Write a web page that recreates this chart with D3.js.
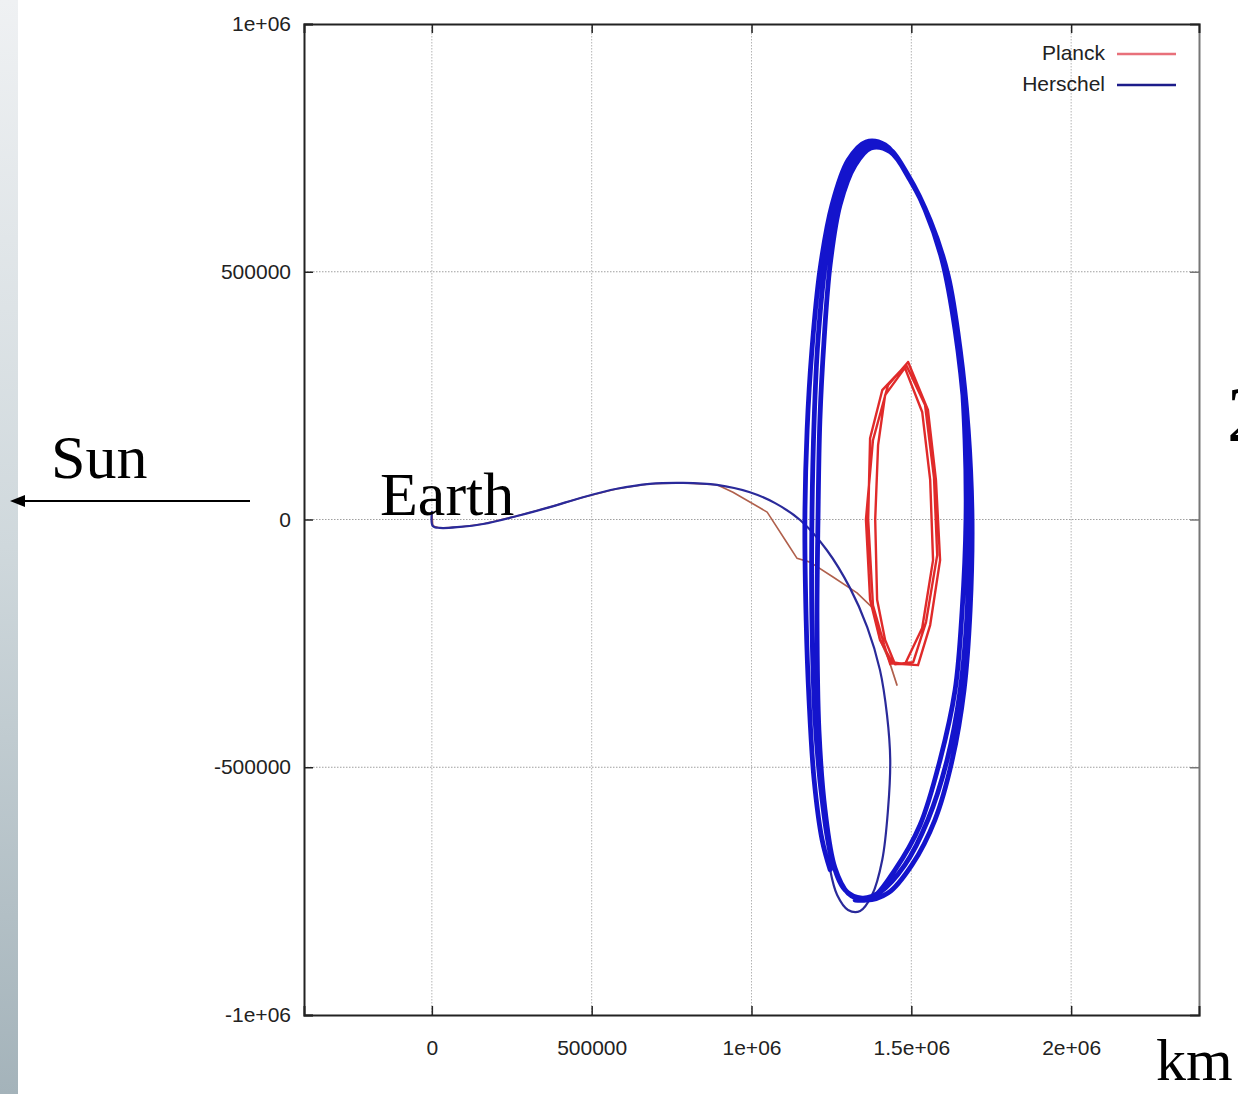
<!DOCTYPE html>
<html>
<head>
<meta charset="utf-8">
<script src="https://cdn.jsdelivr.net/npm/d3@7"></script>
<style>
  html, body { margin: 0; padding: 0; background: #ffffff; overflow: hidden; }
  svg { display: block; }
  .tick text { font-family: "Liberation Sans", Arial, Helvetica, sans-serif; font-size: 21px; fill: #222; }
  .serif { font-family: "Liberation Serif", "Times New Roman", serif; fill: #000; }
</style>
</head>
<body>
<svg id="chart" width="1238" height="1094"></svg>
<script>
// Positions of the spacecraft, in thousands of km, Earth at the origin
// (x points away from the Sun, y perpendicular in the ecliptic).

// Axis ticks
const xTicks = [0, 500, 1000, 1500, 2000];
const xTickLabels = ["0", "500000", "1e+06", "1.5e+06", "2e+06"];
const yTicks = [-1000, -500, 0, 500, 1000];
const yTickLabels = ["-1e+06", "-500000", "0", "500000", "1e+06"];

// Legend entries
const seriesNames = ["Planck", "Herschel"];

// Herschel: transfer from Earth out to L2
const herschelTransfer = [
  [0, 15], [3, -13], [25, -17], [88, -15], [160, -9], [266, 7], [369, 25],
  [473, 45], [579, 62], [682, 72], [786, 74], [892, 70], [995, 55], [1074, 33],
  [1152, -1], [1236, -62], [1308, -138], [1362, -217], [1402, -304], [1424, -395],
  [1434, -485], [1427, -586], [1409, -687], [1377, -758], [1340, -790],
  [1302, -788], [1268, -758], [1246, -707]
];

// Herschel: large orbit around L2 (three revolutions)
const herschelOrbit = [
  [1246, -707],
  [1221, -647], [1196, -526], [1180, -364], [1171, -203], [1167, 0], [1174, 181],
  [1189, 342], [1214, 503], [1252, 635], [1302, 725], [1358, 762], [1418, 756],
  [1480, 705], [1543, 625], [1596, 524], [1637, 382], [1668, 201], [1681, 0],
  [1675, -183], [1653, -344], [1612, -485], [1552, -606], [1480, -697],
  [1402, -752], [1346, -764], [1293, -748],
  [1252, -687], [1221, -566], [1199, -405], [1189, -203], [1189, 0], [1196, 201],
  [1208, 362], [1233, 524], [1271, 645], [1315, 721], [1368, 756], [1427, 750],
  [1490, 695], [1559, 604], [1615, 493], [1653, 342], [1678, 181], [1690, 0],
  [1684, -183], [1665, -344], [1628, -485], [1574, -606], [1502, -697],
  [1427, -754], [1355, -768], [1302, -754],
  [1261, -703], [1230, -586], [1211, -425], [1205, -203], [1208, 0], [1214, 201],
  [1227, 362], [1246, 514], [1277, 635], [1324, 715], [1374, 750], [1434, 742],
  [1496, 685], [1565, 594], [1621, 473], [1653, 322], [1668, 160], [1671, 0],
  [1659, -183], [1637, -344], [1590, -485], [1527, -617], [1449, -707],
  [1377, -764], [1324, -768]
];

// Planck: transfer from Earth out to L2
const planckTransfer = [
  [0, 15], [3, -13], [25, -17], [88, -15], [160, -9], [266, 7], [369, 25],
  [473, 45], [579, 62], [682, 72], [786, 74], [892, 70], [942, 55], [1049, 15],
  [1111, -47], [1142, -78], [1183, -86], [1255, -116], [1330, -148], [1380, -179],
  [1402, -243], [1434, -290]
];

// Planck: smaller orbit around L2 (three revolutions)
const planckOrbit = [
  [1434, -290],
  [1521, -294], [1559, -213], [1590, -82], [1577, 80], [1552, 221], [1490, 318],
  [1427, 271], [1380, 160], [1358, 0], [1371, -162], [1402, -243], [1440, -288],
  [1480, -292], [1534, -219], [1568, -82], [1559, 80], [1534, 217], [1480, 306],
  [1418, 251], [1396, 150], [1387, 0], [1393, -162], [1418, -243], [1449, -292],
  [1506, -288], [1546, -207], [1581, -72], [1571, 84], [1543, 231], [1484, 312],
  [1409, 261], [1371, 164], [1365, 0], [1380, -173], [1415, -253], [1434, -292]
];

// Planck: last short leg after the orbit
const planckTail = [[1434, -292], [1455, -334]];

const svg = d3.select("#chart");

// Slide backdrop strip on the left edge
const defs = svg.append("defs");
const grad = defs.append("linearGradient")
  .attr("id", "strip").attr("x1", 0).attr("y1", 0).attr("x2", 0).attr("y2", 1);
grad.append("stop").attr("offset", "0%").attr("stop-color", "#eff1f3");
grad.append("stop").attr("offset", "50%").attr("stop-color", "#cfd8dc");
grad.append("stop").attr("offset", "100%").attr("stop-color", "#a4b3ba");
svg.append("rect").attr("x", 0).attr("y", 0).attr("width", 18).attr("height", 1094)
  .attr("fill", "url(#strip)");

const plot = { left: 304, right: 1199, top: 24, bottom: 1015 };

const x = d3.scaleLinear().domain([-400, 2400]).range([plot.left, plot.right]);
const y = d3.scaleLinear().domain([-1000, 1000]).range([plot.bottom, plot.top]);

// Grid
const grid = svg.append("g");
grid.selectAll("line.gx").data(xTicks).join("line")
  .attr("x1", d => x(d)).attr("x2", d => x(d))
  .attr("y1", plot.top).attr("y2", plot.bottom)
  .attr("stroke", "#b4b4b4").attr("stroke-width", 1).attr("stroke-dasharray", "1.5,1.5");
grid.selectAll("line.gy").data(yTicks.filter(d => d > -1000 && d < 1000)).join("line")
  .attr("x1", plot.left).attr("x2", plot.right)
  .attr("y1", d => y(d)).attr("y2", d => y(d))
  .attr("stroke", "#a0a0a0").attr("stroke-width", 1.2).attr("stroke-dasharray", "1.5,1.5");

// Axes, gnuplot style: ticks pointing inward, mirrored on top/right
const axisLeft = d3.axisLeft(y).tickValues(yTicks)
  .tickFormat((d, i) => yTickLabels[i]).tickSize(-9).tickPadding(13);
const axisBottom = d3.axisBottom(x).tickValues(xTicks)
  .tickFormat((d, i) => xTickLabels[i]).tickSize(-9).tickPadding(25);
const axisRight = d3.axisRight(y).tickValues(yTicks).tickFormat("").tickSize(-9);
const axisTop = d3.axisTop(x).tickValues(xTicks).tickFormat("").tickSize(-9);

function styleAxis(g, color) {
  g.select(".domain").attr("stroke", color).attr("stroke-width", 2);
  g.selectAll(".tick line").attr("stroke", color).attr("stroke-width", 1.5);
}

svg.append("g").attr("transform", `translate(${plot.right},0)`).call(axisRight)
  .call(g => styleAxis(g, "#777"));
svg.append("g").attr("transform", `translate(0,${plot.top})`).call(axisTop)
  .call(g => styleAxis(g, "#222"));
svg.append("g").attr("transform", `translate(${plot.left},0)`).call(axisLeft)
  .call(g => styleAxis(g, "#222"));
svg.append("g").attr("transform", `translate(0,${plot.bottom})`).call(axisBottom)
  .call(g => styleAxis(g, "#222"));

// Trajectories
const lineSmooth = d3.line().x(d => x(d[0])).y(d => y(d[1])).curve(d3.curveCatmullRom.alpha(0.5));
const lineSharp = d3.line().x(d => x(d[0])).y(d => y(d[1])).curve(d3.curveLinear);

const traj = svg.append("g").attr("fill", "none")
  .attr("stroke-linejoin", "round").attr("stroke-linecap", "round");

traj.append("path").attr("d", lineSharp(planckTransfer))
  .attr("stroke", "#b0604c").attr("stroke-width", 1.6);
traj.append("path").attr("d", lineSharp(planckTail))
  .attr("stroke", "#b0604c").attr("stroke-width", 1.8);
traj.append("path").attr("d", lineSharp(planckOrbit))
  .attr("stroke", "#e02a2a").attr("stroke-width", 2.4);
traj.append("path").attr("d", lineSmooth(herschelTransfer))
  .attr("stroke", "#2a2a9a").attr("stroke-width", 2.2);
traj.append("path").attr("d", lineSmooth(herschelOrbit))
  .attr("stroke", "#1414cc").attr("stroke-width", 4.8);

// Legend
const legendColors = ["#e8707a", "#1c1c8a"];
const legend = svg.append("g");
seriesNames.forEach((name, i) => {
  const ly = 53 + i * 31;
  legend.append("text")
    .attr("x", 1105).attr("y", ly).attr("dy", "0.35em")
    .attr("text-anchor", "end")
    .attr("font-family", "Liberation Sans, Arial, sans-serif")
    .attr("font-size", 21).attr("fill", "#222")
    .text(name);
  legend.append("line")
    .attr("x1", 1117).attr("x2", 1176).attr("y1", ly + 1).attr("y2", ly + 1)
    .attr("stroke", legendColors[i]).attr("stroke-width", 2.5);
});

// Annotations
svg.append("text").attr("class", "serif").attr("x", 51).attr("y", 478)
  .attr("font-size", 62).text("Sun");
svg.append("line").attr("x1", 250).attr("x2", 22).attr("y1", 501).attr("y2", 501)
  .attr("stroke", "#000").attr("stroke-width", 2);
svg.append("path").attr("d", "M10,501 L25,495 L25,507 Z").attr("fill", "#000");
svg.append("text").attr("class", "serif").attr("x", 380).attr("y", 515)
  .attr("font-size", 62).text("Earth");
svg.append("text").attr("class", "serif").attr("x", 1156).attr("y", 1080)
  .attr("font-size", 60).text("km");
svg.append("text").attr("class", "serif").attr("x", 1227).attr("y", 440)
  .attr("font-size", 78).text("2");
</script>
</body>
</html>
